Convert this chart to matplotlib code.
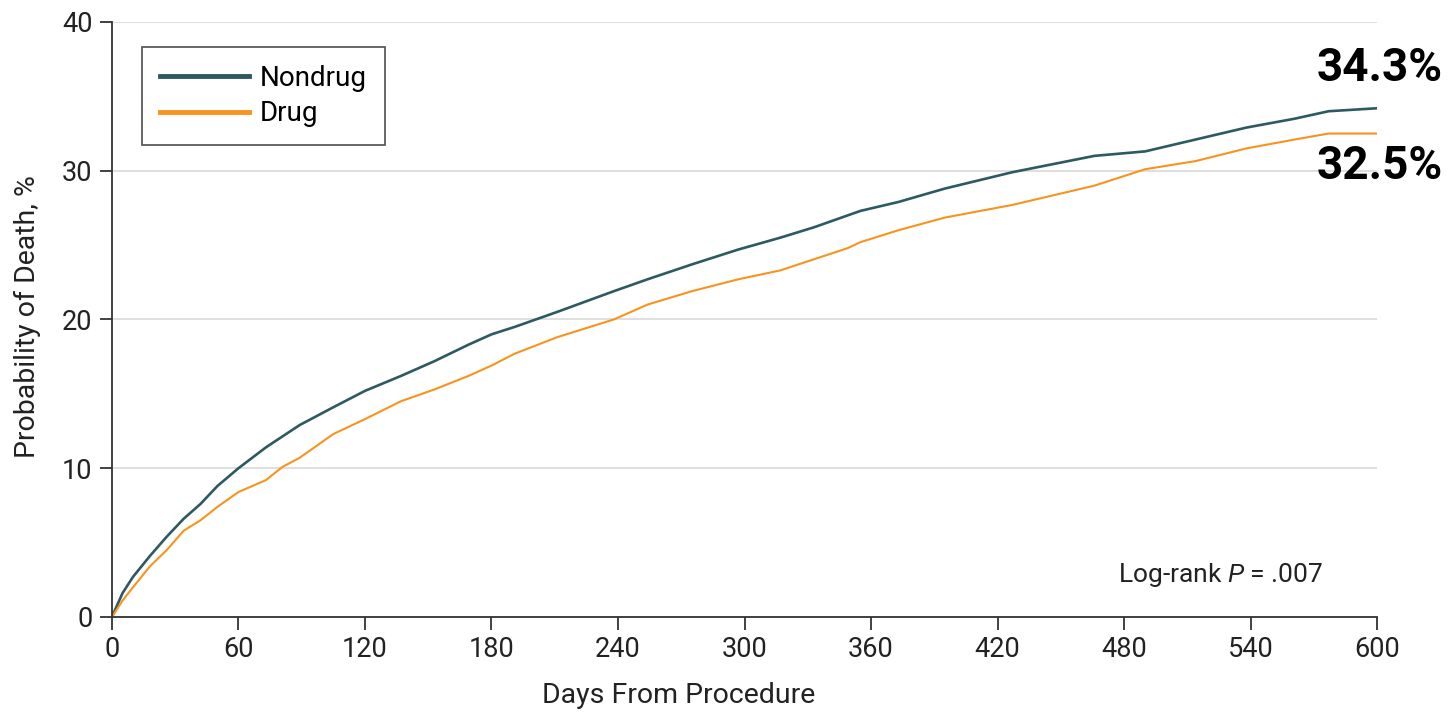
import matplotlib
matplotlib.use("Agg")
import matplotlib.pyplot as plt

# Data (days, cumulative probability of death %)
days_nondrug = [0, 5, 10, 18, 26, 34, 42, 50, 60, 73, 89, 105, 120, 137, 153, 169, 180, 191,
                211, 238, 254, 275, 297, 317, 333, 349, 355, 373, 395, 427, 466, 490, 514,
                538, 561, 577, 600]
nondrug = [0, 1.6, 2.7, 4.1, 5.4, 6.6, 7.6, 8.8, 10.0, 11.4, 12.9, 14.1, 15.2, 16.2, 17.2,
           18.3, 19.0, 19.5, 20.5, 21.9, 22.7, 23.7, 24.7, 25.5, 26.2, 27.0, 27.3, 27.9,
           28.8, 29.9, 31.0, 31.3, 32.1, 32.9, 33.5, 34.0, 34.2]

days_drug = [0, 5, 10, 18, 26, 34, 42, 50, 60, 73, 81, 89, 105, 120, 137, 153, 169, 180, 191,
             211, 238, 254, 275, 297, 317, 333, 349, 355, 373, 395, 427, 466, 490, 514,
             538, 561, 577, 600]
drug = [0, 1.1, 2.0, 3.4, 4.5, 5.8, 6.5, 7.4, 8.4, 9.2, 10.1, 10.7, 12.3, 13.3, 14.5, 15.3,
        16.2, 16.9, 17.7, 18.8, 20.0, 21.0, 21.9, 22.7, 23.3, 24.05, 24.8, 25.2, 26.0, 26.85,
        27.7, 29.0, 30.1, 30.65, 31.5, 32.1, 32.5, 32.5]

end_labels = ["34.3%", "32.5%"]
xticks = [0, 60, 120, 180, 240, 300, 360, 420, 480, 540, 600]
yticks = [0, 10, 20, 30, 40]

plt.rcParams['font.family'] = ['Roboto', 'DejaVu Sans']
plt.rcParams['mathtext.fontset'] = 'custom'
plt.rcParams['mathtext.it'] = 'Roboto:italic'
plt.rcParams['mathtext.rm'] = 'Roboto'

c_non = '#2d5a61'
c_drug = '#f7931e'
dark = '#333333'
txt = '#222222'

fig = plt.figure(figsize=(14.5, 7.16), dpi=100)
ax = fig.add_axes([0.0772, 0.1383, 0.8725, 0.831])

ax.plot(days_nondrug, nondrug, color=c_non, lw=1.9, label='Nondrug')
ax.plot(days_drug, drug, color=c_drug, lw=1.5, label='Drug')

ax.set_xlim(0, 600)
ax.set_ylim(0, 40)
ax.set_xticks(xticks)
ax.set_yticks(yticks)
ax.grid(axis='y', color='#d9d9d9', lw=1.2)
ax.set_axisbelow(True)
for s in ['top', 'right']:
    ax.spines[s].set_visible(False)
for s in ['left', 'bottom']:
    ax.spines[s].set_color(dark)
    ax.spines[s].set_linewidth(1.3)
ax.tick_params(length=9, width=1.3, color=dark, labelsize=19.5, labelcolor=txt, pad=5)

ax.set_xlabel('Days From Procedure', fontsize=20.5, color=txt)
ax.set_ylabel('Probability of Death, %', fontsize=20.5, color=txt)
ax.xaxis.set_label_coords(0.448, -0.11)
ax.yaxis.set_label_coords(-0.056, 0.505)

leg = ax.legend(loc='upper left', bbox_to_anchor=(0.0237, 0.958), borderaxespad=0,
                fontsize=20, frameon=True, fancybox=False, edgecolor=dark,
                handlelength=3.2, handletextpad=0.4, borderpad=0.65, labelspacing=0.3)
leg.get_frame().set_linewidth(1.3)
for h in leg.get_lines():
    h.set_linewidth(3.5)

ax.text(0.957, 0.07, 'Log-rank $P$ = .007', transform=ax.transAxes, ha='right',
        va='center', fontsize=19, color=txt)

# end-point annotations (figure pixels from bottom-left)
ax.annotate(end_labels[0], xy=(600, nondrug[-1]), xytext=(1443, 716 - 68), textcoords='figure pixels',
            ha='right', va='center', fontsize=33, fontweight='bold', family='Roboto',
            color='black')
ax.annotate(end_labels[1], xy=(600, drug[-1]), xytext=(1443, 716 - 166), textcoords='figure pixels',
            ha='right', va='center', fontsize=33, fontweight='bold', family='Roboto',
            color='black')

fig.savefig('out.png', dpi=100)
